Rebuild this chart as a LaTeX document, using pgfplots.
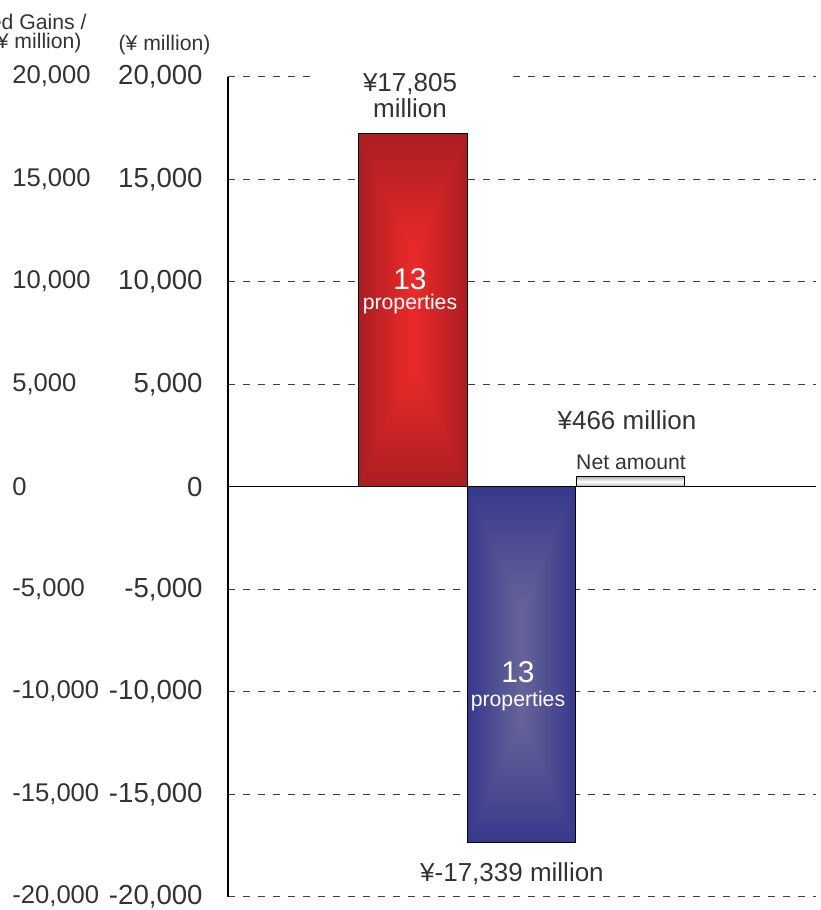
\documentclass[border=0pt]{standalone}
\usepackage{pgfplots}
\pgfplotsset{compat=1.18}
\usepackage{fontspec}
\setmainfont{Liberation Sans}
\definecolor{txt}{HTML}{333333}
\newcommand{\fs}[1]{\fontsize{#1}{#1}\selectfont}
% rectangular (box) gradients: bright centre, darker edges
\pgfdeclarefunctionalshading{redbox}{\pgfpoint{-50bp}{-50bp}}{\pgfpoint{50bp}{50bp}}{}{
  abs 25 div 0.3 sub 0.7 div exch abs 25 div 2 copy lt {exch} if pop
  dup 0 lt {pop 0} if dup 1 gt {pop 1} if
  dup dup
  -0.030 mul 0.163 add
  exch -0.045 mul 0.163 add exch
  3 -1 roll -0.262 mul 0.929 add 3 1 roll
}
\pgfdeclarefunctionalshading{bluebox}{\pgfpoint{-50bp}{-50bp}}{\pgfpoint{50bp}{50bp}}{}{
  abs 25 div 0.3 sub 0.7 div exch abs 25 div 2 copy lt {exch} if pop
  dup 0 lt {pop 0} if dup 1 gt {pop 1} if
  dup dup
  -0.047 mul 0.596 add
  exch -0.172 mul 0.392 add exch
  3 -1 roll -0.180 mul 0.400 add 3 1 roll
}
\begin{document}
\begin{tikzpicture}
\begin{axis}[
  name=ax, scale only axis, width=294pt, height=410pt,
  xmin=0, xmax=588, ymin=-20000, ymax=20000,
  clip=false, scaled y ticks=false,
  axis x line=none, axis y line=left,
  y axis line style={-, black, line width=0.6pt},
  ytick={-20000,-15000,...,20000},
  yticklabels={{-20,000},{-15,000},{-10,000},{-5,000},0,{5,000},{10,000},{15,000},{20,000}},
  major tick length=0pt,
  yticklabel style={font=\fs{13.8}, text=txt, anchor=east, inner sep=0pt, xshift=-12.5pt},
  ymajorgrids,
  major grid style={draw=black!75, dash pattern=on 3.5pt off 4pt, line width=0.5pt},
]
\addplot[ybar, bar width=108.5, bar shift=0pt, draw=black, line width=0.5pt,
  shade, shading=redbox] coordinates {(185,17230)};
\addplot[ybar, bar width=108.5, bar shift=0pt, draw=black, line width=0.5pt,
  shade, shading=bluebox] coordinates {(293.5,-17380)};
\addplot[ybar, bar width=108.5, bar shift=0pt, draw=black, line width=0.5pt,
  top color=black!30, bottom color=black!30, middle color=white] coordinates {(402.5,490)};
\draw[black, line width=0.6pt] (axis cs:0,0) -- (axis cs:588,0);
% labels
\node[fill=white, minimum width=98pt, align=center, inner sep=2pt, font=\fontsize{13}{13.3}\selectfont, text=txt] at (axis cs:182,19073) {¥17,805\\million};
\node[font=\fs{15}, text=white] at (axis cs:182,10146) {13};
\node[font=\fs{10.6}, text=white] at (axis cs:182,8927) {properties};
\node[font=\fs{15}, text=white] at (axis cs:290,-9058) {13};
\node[font=\fs{10.6}, text=white] at (axis cs:290,-10439) {properties};
\node[font=\fs{13}, text=txt] at (axis cs:284,-18878) {¥-17,339 million};
\node[font=\fs{13}, text=txt] at (axis cs:399,3220) {¥466 million};
\node[font=\fs{10.6}, text=txt] at (axis cs:403,1171) {Net amount};
% left column of tick labels
\node[anchor=west, inner sep=0pt, font=\fs{12.8}, text=txt] at ([xshift=-108pt]axis cs:0,20000) {20,000};
\node[anchor=west, inner sep=0pt, font=\fs{12.8}, text=txt] at ([xshift=-108pt]axis cs:0,15000) {15,000};
\node[anchor=west, inner sep=0pt, font=\fs{12.8}, text=txt] at ([xshift=-108pt]axis cs:0,10000) {10,000};
\node[anchor=west, inner sep=0pt, font=\fs{12.8}, text=txt] at ([xshift=-108pt]axis cs:0,5000) {5,000};
\node[anchor=west, inner sep=0pt, font=\fs{12.8}, text=txt] at ([xshift=-108pt]axis cs:0,0) {0};
\node[anchor=west, inner sep=0pt, font=\fs{12.8}, text=txt] at ([xshift=-108pt]axis cs:0,-5000) {-5,000};
\node[anchor=west, inner sep=0pt, font=\fs{12.8}, text=txt] at ([xshift=-108pt]axis cs:0,-10000) {-10,000};
\node[anchor=west, inner sep=0pt, font=\fs{12.8}, text=txt] at ([xshift=-108pt]axis cs:0,-15000) {-15,000};
\node[anchor=west, inner sep=0pt, font=\fs{12.8}, text=txt] at ([xshift=-108pt]axis cs:0,-20000) {-20,000};
\end{axis}
\node[font=\fs{10.6}, text=txt] at ([xshift=-31.75pt, yshift=15.85pt]ax.north west) {(¥ million)};
\node[anchor=east, inner sep=0pt, font=\fs{10.6}, text=txt] at ([xshift=-70.5pt, yshift=27.35pt]ax.north west) {Unrealized Gains /};
\node[anchor=east, inner sep=0pt, font=\fs{10.6}, text=txt] at ([xshift=-73pt, yshift=16.85pt]ax.north west) {(¥ million)};
\pgfresetboundingbox
\path[use as bounding box] ([xshift=-114pt, yshift=-6.65pt]ax.south west) rectangle ([xshift=2pt, yshift=38.35pt]ax.north east);
\end{tikzpicture}
\end{document}
